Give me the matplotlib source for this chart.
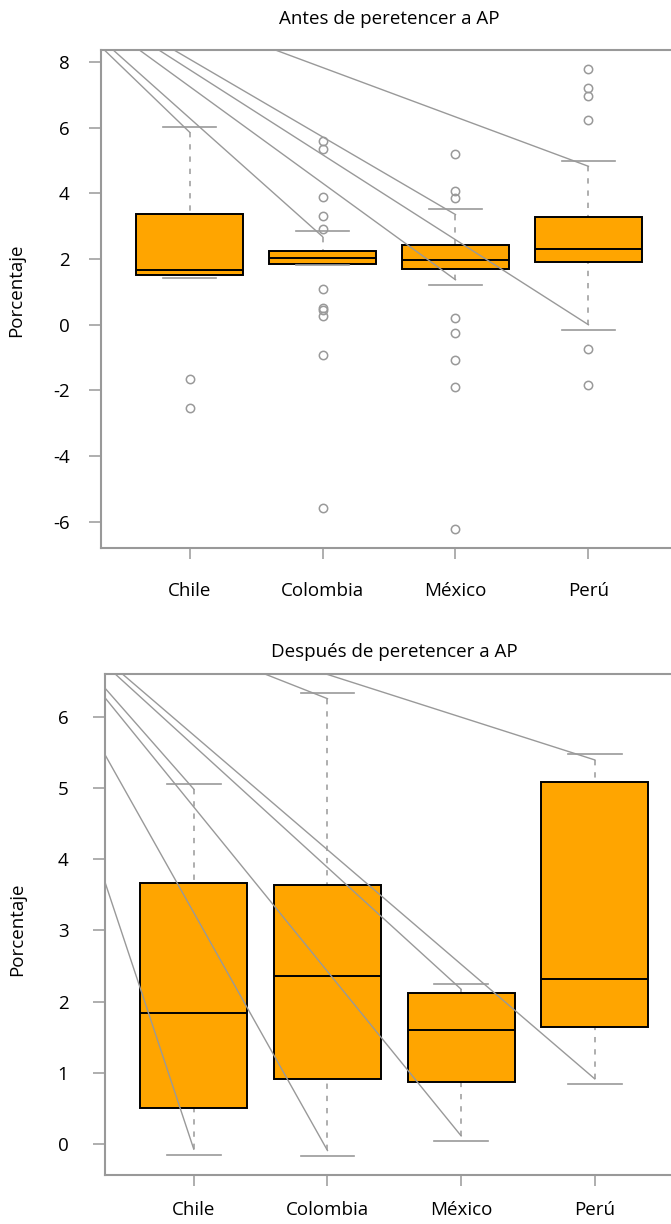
import matplotlib
matplotlib.use('Agg')
import matplotlib.pyplot as plt

plt.rcParams['font.family'] = ['Open Sans', 'DejaVu Sans']

countries = ['Chile', 'Colombia', 'México', 'Perú']

# ---- Antes de pertenecer a AP ----
antes_q1 = [1.50, 1.857, 1.68, 1.91]
antes_med = [1.655, 2.02, 1.97, 2.30]
antes_q3 = [3.38, 2.24, 2.42, 3.27]
antes_whislo = [1.41, 1.815, 1.20, -0.17]
antes_whishi = [6.03, 2.85, 3.52, 4.99]
antes_fliers_chile = [-1.65, -2.53]
antes_fliers_colombia = [5.58, 5.35, 3.89, 3.32, 2.90, 1.08, 0.52, 0.45, 0.27, -0.93, -5.57]
antes_fliers_mexico = [5.19, 4.06, 3.85, 0.20, -0.24, -1.09, -1.89, -6.21]
antes_fliers_peru = [7.80, 7.21, 6.96, 6.24, -0.73, -1.85]
antes_yticks = [-6, -4, -2, 0, 2, 4, 6, 8]
antes_ylabels = ['-6', '-4', '-2', '0', '2', '4', '6', '8']

# ---- Después de pertenecer a AP ----
desp_q1 = [0.50, 0.907, 0.87, 1.636]
desp_med = [1.84, 2.36, 1.60, 2.32]
desp_q3 = [3.665, 3.64, 2.12, 5.08]
desp_whislo = [-0.15, -0.168, 0.037, 0.837]
desp_whishi = [5.06, 6.33, 2.25, 5.47]
desp_yticks = [0, 1, 2, 3, 4, 5, 6]
desp_ylabels = ['0', '1', '2', '3', '4', '5', '6']

title_antes = 'Antes de peretencer a AP'
title_desp = 'Después de peretencer a AP'
ylabel = 'Porcentaje'

ORANGE = '#FFA500'
GRAY = '#999999'
FS = 13.5

W, H = 671, 1224
fig = plt.figure(figsize=(W / 100, H / 100), dpi=100)
fig.patch.set_facecolor('white')


def panel(rect, q1, med, q3, lo, hi, fliers, yticks, ylabels, ylim, xlim,
          title, title_pad, xpad, ypad):
    ax = fig.add_axes(rect)
    ax.patch.set_visible(False)
    stats = []
    for i, c in enumerate(countries):
        stats.append(dict(med=med[i], q1=q1[i], q3=q3[i], whislo=lo[i],
                          whishi=hi[i], fliers=fliers[i], label=c))
    pos = [1, 2, 3, 4]
    ax.bxp(stats, positions=pos, widths=0.8, patch_artist=True,
           showcaps=True, capwidths=0.4,
           boxprops=dict(facecolor=ORANGE, edgecolor='black', linewidth=1.4),
           medianprops=dict(color='black', linewidth=1.4),
           whiskerprops=dict(linestyle='none'),
           capprops=dict(color=GRAY, linewidth=1.2),
           flierprops=dict(marker='o', markerfacecolor='none',
                           markeredgecolor=GRAY, markersize=6,
                           markeredgewidth=1.1))
    ax.set_xlim(*xlim)
    ax.set_ylim(*ylim)
    # pixels per data unit
    p0 = ax.transData.transform((1, 0))
    p1 = ax.transData.transform((1, 1))
    off = 5.5 / (p1[1] - p0[1])
    ox = xlim[0] + (-0.18) * (xlim[1] - xlim[0])
    oy = ylim[0] + 1.208 * (ylim[1] - ylim[0])
    for i, x in enumerate(pos):
        up = hi[i] - off
        if up > q3[i]:
            ax.plot([x, x], [up, q3[i]], color=GRAY, lw=1.1,
                    linestyle=(0, (3.5, 4.5)), zorder=1)
            ax.plot([ox, x], [oy, up], color=GRAY, lw=1.0, zorder=5)
        dn = lo[i] + off
        if dn < q1[i]:
            ax.plot([x, x], [dn, q1[i]], color=GRAY, lw=1.1,
                    linestyle=(0, (3.5, 4.5)), zorder=1)
            ax.plot([ox, x], [oy, dn], color=GRAY, lw=1.0, zorder=5)
    ax.set_xlim(*xlim)
    ax.set_ylim(*ylim)
    for s in ax.spines.values():
        s.set_color(GRAY)
        s.set_linewidth(1.5)
    ax.spines['right'].set_visible(False)
    ax.set_xticks(pos)
    ax.set_xticklabels(countries, fontsize=FS)
    ax.set_yticks(yticks)
    ax.set_yticklabels(ylabels, fontsize=FS)
    ax.tick_params(axis='x', length=8, width=1.1, color=GRAY, pad=xpad)
    ax.tick_params(axis='y', length=8.6, width=1.1, color=GRAY, pad=ypad)
    ax.set_title(title, fontsize=FS, pad=title_pad)
    return ax


fliers_antes = [antes_fliers_chile, antes_fliers_colombia,
                antes_fliers_mexico, antes_fliers_peru]
panel([101 / W, 1 - 548.3 / H, 576 / W, 498 / H],
      antes_q1, antes_med, antes_q3, antes_whislo, antes_whishi,
      fliers_antes, antes_yticks, antes_ylabels, (-6.81, 8.355),
      (0.334, 4.666), title_antes, 19, 16, 14)

panel([105.3 / W, 1 - 1175 / H, 578 / W, 500.7 / H],
      desp_q1, desp_med, desp_q3, desp_whislo, desp_whishi,
      [[], [], [], []], desp_yticks, desp_ylabels, (-0.435, 6.595),
      (0.338, 4.662), title_desp, 12.7, 11, 18)

fig.text(16.5 / W, 1 - 290 / H, ylabel, rotation=90, ha='center',
         va='center', fontsize=FS)
fig.text(17 / W, 1 - 929 / H, ylabel, rotation=90, ha='center',
         va='center', fontsize=FS)

fig.savefig('out.png', dpi=100, facecolor='white')
